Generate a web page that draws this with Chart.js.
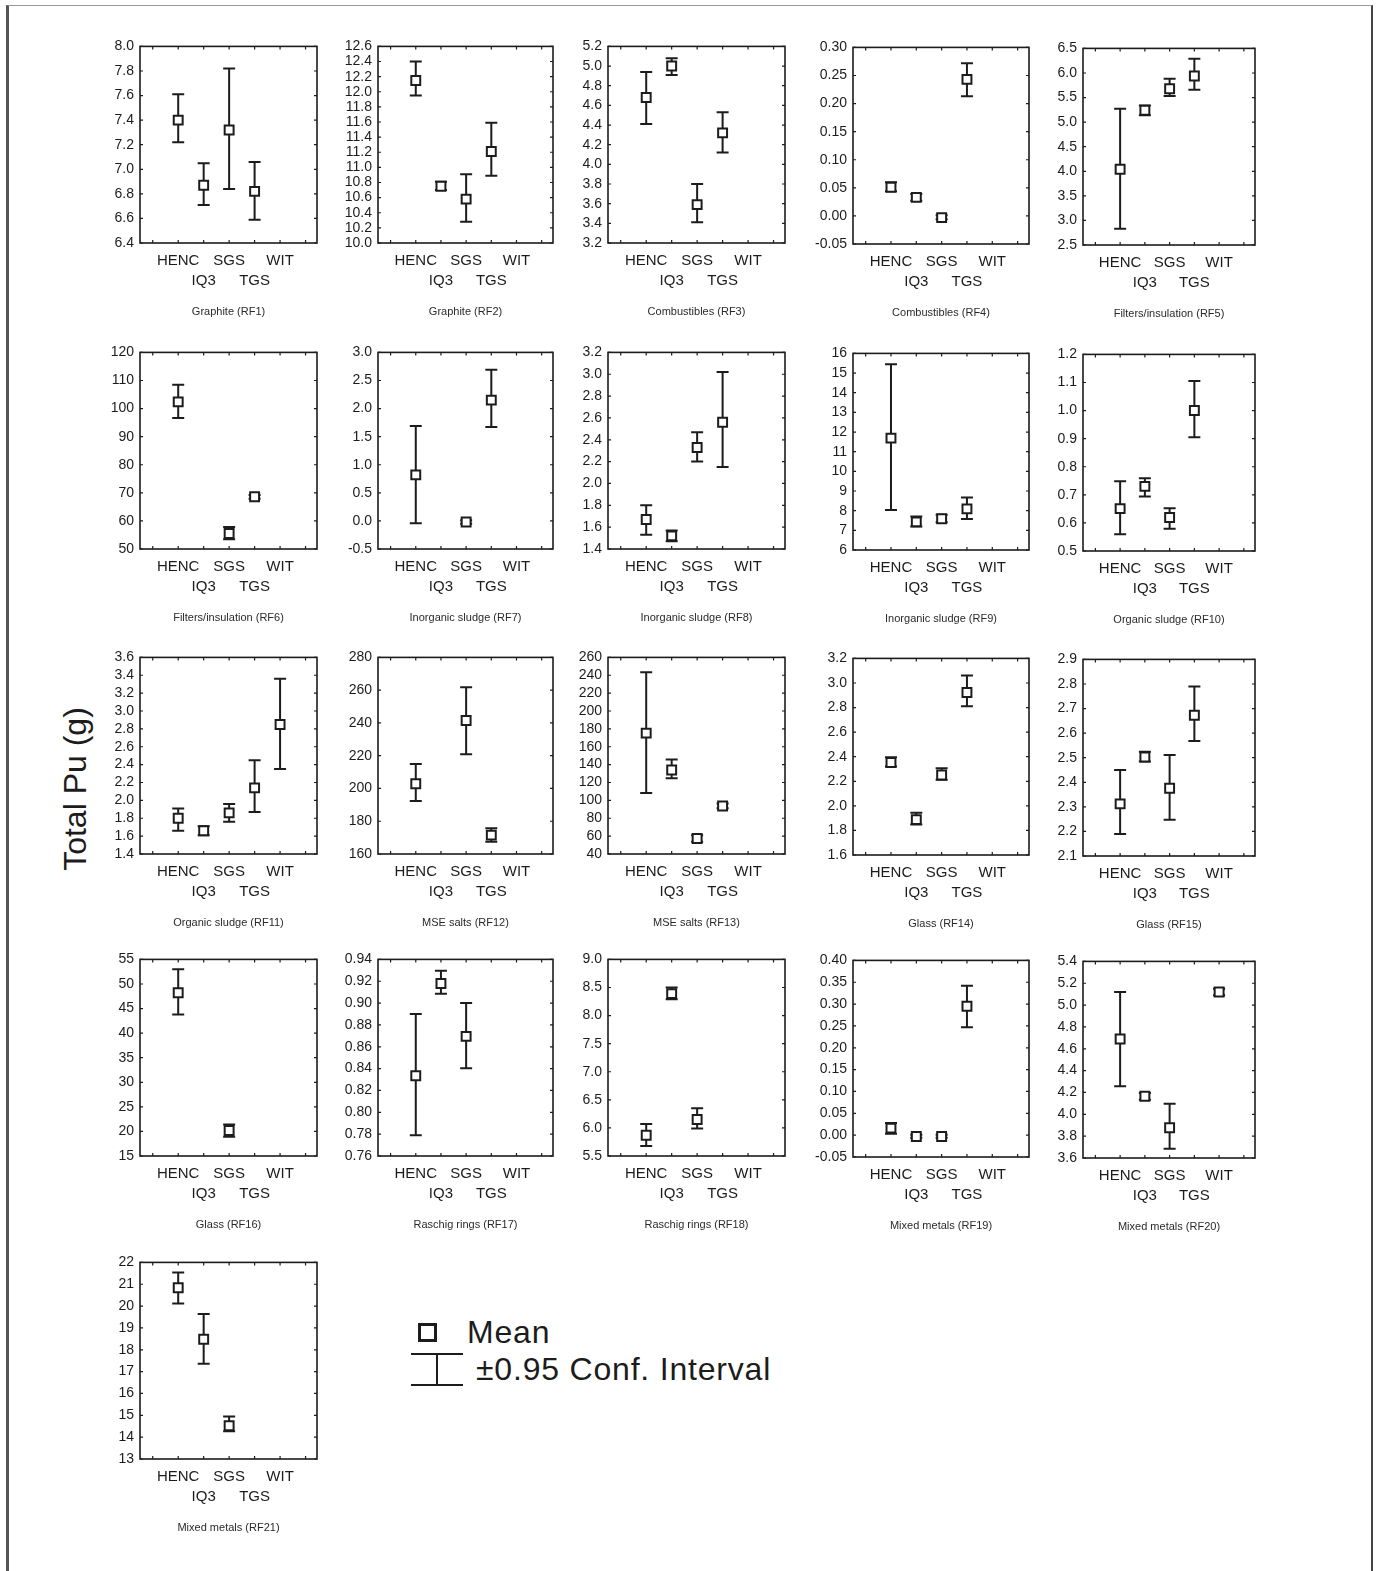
<!DOCTYPE html>
<html>
<head>
<meta charset="utf-8">
<script src="https://cdn.jsdelivr.net/npm/chart.js@4.4.1/dist/chart.umd.min.js"></script>
<style>
  html, body { margin: 0; padding: 0; background: #fff; }
  body { width: 1378px; height: 1571px; position: relative; overflow: hidden;
         font-family: "Liberation Sans", Arial, sans-serif; color: #1c1c1c; }
  .frame { position: absolute; left: 6px; top: 5px; width: 1362px; height: 1600px;
           border-left: 3px solid #555; border-top: 1px solid #999; border-right: 2px solid #444; }
  canvas { position: absolute; }
  .ylab { position: absolute; left: 75px; top: 789px; font-size: 32px; white-space: nowrap;
          transform: translate(-50%, -50%) rotate(-90deg); }
  .lg-box { position: absolute; left: 418px; top: 1323px; width: 13px; height: 13px; border: 3px solid #1c1c1c; }
  .lg-txt { position: absolute; font-size: 32px; line-height: 32px; letter-spacing: 0.8px; white-space: nowrap; }
  .lg-bar { position: absolute; left: 411px; top: 1353px; width: 52px; height: 29px;
            border-top: 2px solid #1c1c1c; border-bottom: 2px solid #1c1c1c; }
  .lg-bar::after { content: ""; position: absolute; left: 25px; top: 0; width: 2px; height: 29px; background: #1c1c1c; }
</style>
</head>
<body>
<div class="frame"></div>
<div class="ylab">Total Pu (g)</div>
<div class="lg-box"></div>
<div class="lg-txt" style="left:467px; top:1316px;">Mean</div>
<div class="lg-bar"></div>
<div class="lg-txt" style="left:476px; top:1353px;">±0.95 Conf. Interval</div>
<script>
const categories = ['HENC', 'IQ3', 'SGS', 'TGS', 'WIT'];

const titles = [
  'Graphite (RF1)', 'Graphite (RF2)', 'Combustibles (RF3)', 'Combustibles (RF4)', 'Filters/insulation (RF5)',
  'Filters/insulation (RF6)', 'Inorganic sludge (RF7)', 'Inorganic sludge (RF8)', 'Inorganic sludge (RF9)', 'Organic sludge (RF10)',
  'Organic sludge (RF11)', 'MSE salts (RF12)', 'MSE salts (RF13)', 'Glass (RF14)', 'Glass (RF15)',
  'Glass (RF16)', 'Raschig rings (RF17)', 'Raschig rings (RF18)', 'Mixed metals (RF19)', 'Mixed metals (RF20)',
  'Mixed metals (RF21)'
];

// mean per method: HENC, IQ3, SGS, TGS, WIT
const means = [
  [7.40, 6.87, 7.32, 6.82, null],
  [12.15, 10.75, 10.58, 11.21, null],
  [4.68, 5.00, 3.59, 4.32, null],
  [0.051, 0.033, -0.003, 0.243, null],
  [4.04, 5.24, 5.68, 5.94, null],
  [102.4, null, 55.5, 68.6, null],
  [0.82, null, -0.02, 2.15, null],
  [1.67, 1.52, 2.33, 2.56, null],
  [11.69, 7.43, 7.59, 8.09, null],
  [0.651, 0.73, 0.619, 1.0, null],
  [1.80, 1.66, 1.86, 2.14, 2.85],
  [202.9, null, 241.5, 171.5, null],
  [175.3, 134.0, 57.4, 93.8, null],
  [2.353, 1.888, 2.251, 2.923, null],
  [2.312, 2.503, 2.376, 2.673, null],
  [48.2, null, 20.2, null, null],
  [0.8335, 0.918, 0.8695, null, null],
  [5.87, 8.39, 6.15, null, null],
  [0.016, -0.003, -0.003, 0.295, null],
  [4.69, 4.166, 3.877, null, 5.12],
  [20.84, 18.48, 14.52, null, null]
];

// lower end of the 0.95 confidence interval
const lows = [
  [7.22, 6.71, 6.84, 6.59, null],
  [11.95, 10.70, 10.28, 10.89, null],
  [4.41, 4.91, 3.41, 4.12, null],
  [0.044, 0.027, -0.006, 0.213, null],
  [2.83, 5.14, 5.53, 5.66, null],
  [96.6, null, 53.5, 67.9, null],
  [-0.04, null, -0.05, 1.67, null],
  [1.53, 1.47, 2.20, 2.15, null],
  [8.04, 7.19, 7.41, 7.58, null],
  [0.56, 0.694, 0.579, 0.905, null],
  [1.66, 1.61, 1.76, 1.87, 2.35],
  [192.3, null, 220.9, 167.5, null],
  [108.2, 124.8, 53.7, 91.2, null],
  [2.32, 1.848, 2.213, 2.81, null],
  [2.19, 2.485, 2.248, 2.568, null],
  [43.8, null, 18.9, null, null],
  [0.7789, 0.9085, 0.8404, null, null],
  [5.68, 8.29, 5.99, null, null],
  [0.003, -0.006, -0.006, 0.247, null],
  [4.256, 4.133, 3.684, null, 5.09],
  [20.12, 17.36, 14.27, null, null]
];

// upper end of the 0.95 confidence interval
const highs = [
  [7.61, 7.05, 7.82, 7.06, null],
  [12.40, 10.81, 10.91, 11.59, null],
  [4.94, 5.08, 3.80, 4.53, null],
  [0.060, 0.039, 0.001, 0.272, null],
  [5.27, 5.34, 5.88, 6.29, null],
  [108.5, null, 57.8, 69.2, null],
  [1.69, null, 0.01, 2.69, null],
  [1.80, 1.57, 2.47, 3.02, null],
  [15.45, 7.71, 7.79, 8.67, null],
  [0.748, 0.759, 0.652, 1.105, null],
  [1.91, 1.71, 1.96, 2.45, 3.36],
  [214.9, null, 261.8, 175.7, null],
  [243.4, 145.8, 61.0, 96.4, null],
  [2.396, 1.944, 2.305, 3.06, null],
  [2.45, 2.524, 2.511, 2.79, null],
  [53.0, null, 21.4, null, null],
  [0.8899, 0.9295, 0.9001, null, null],
  [6.07, 8.50, 6.35, null, null],
  [0.028, 0.001, 0.001, 0.342, null],
  [5.12, 4.196, 4.097, null, 5.15],
  [21.54, 19.64, 14.94, null, null]
];

// y axis ticks of each panel
const yMins   = [6.4, 10.0, 3.2, -0.05, 2.5, 50, -0.5, 1.4, 6, 0.5, 1.4, 160, 40, 1.6, 2.1, 15, 0.76, 5.5, -0.05, 3.6, 13];
const yMaxs   = [8.0, 12.6, 5.2, 0.30, 6.5, 120, 3.0, 3.2, 16, 1.2, 3.6, 280, 260, 3.2, 2.9, 55, 0.94, 9.0, 0.40, 5.4, 22];
const ySteps  = [0.2, 0.2, 0.2, 0.05, 0.5, 10, 0.5, 0.2, 1, 0.1, 0.2, 20, 20, 0.2, 0.1, 5, 0.02, 0.5, 0.05, 0.2, 1];
const yDigits = [1, 1, 1, 2, 1, 0, 1, 1, 0, 1, 1, 0, 0, 1, 1, 0, 2, 1, 2, 1, 0];

const ink = '#1c1c1c';
const fontFamily = '"Liberation Sans", Arial, sans-serif';

// page layout of the plot boxes
const plotLeft = [140, 378, 608, 853, 1083];
const plotWidth = [177, 175, 177, 176, 172];
const rowTop = [42, 348, 653, 955, 1258];
const colShift = [0, 0, 0, 1, 2];
const plotHeight = 201;

const panelDecor = {
  id: 'panelDecor',
  beforeDatasetsDraw(chart, args, opts) {
    const k = opts.k;
    const {ctx, chartArea: a, scales: {x, y}} = chart;
    ctx.save();
    ctx.strokeStyle = ink;
    ctx.lineWidth = 1.6;
    ctx.strokeRect(a.left, a.top, a.width, a.height);

    // small inward ticks on all four sides
    ctx.lineWidth = 1.2;
    ctx.beginPath();
    for (let v = -1; v <= 5; v++) {
      const px = x.getPixelForValue(v);
      if (px < a.left + 3 || px > a.right - 3) continue;
      ctx.moveTo(px, a.bottom); ctx.lineTo(px, a.bottom - 3);
      ctx.moveTo(px, a.top); ctx.lineTo(px, a.top + 3);
    }
    y.ticks.forEach(t => {
      const py = y.getPixelForValue(t.value);
      ctx.moveTo(a.left, py); ctx.lineTo(a.left + 3, py);
      ctx.moveTo(a.right, py); ctx.lineTo(a.right - 3, py);
    });
    ctx.stroke();

    // confidence interval whiskers
    ctx.lineWidth = 2;
    lows[k].forEach((lo, i) => {
      const hi = highs[k][i];
      if (lo == null || hi == null) return;
      const px = x.getPixelForValue(i);
      const p1 = y.getPixelForValue(lo);
      const p2 = y.getPixelForValue(hi);
      ctx.beginPath();
      ctx.moveTo(px, p1); ctx.lineTo(px, p2);
      ctx.moveTo(px - 6, p1); ctx.lineTo(px + 6, p1);
      ctx.moveTo(px - 6, p2); ctx.lineTo(px + 6, p2);
      ctx.stroke();
    });

    // panel caption
    ctx.fillStyle = '#2a2a2a';
    ctx.font = '11px ' + fontFamily;
    ctx.textAlign = 'center';
    ctx.textBaseline = 'middle';
    ctx.fillText(titles[k], (a.left + a.right) / 2, a.bottom + 69);
    ctx.restore();
  }
};

titles.forEach((title, k) => {
  const col = k % 5, row = Math.floor(k / 5);
  const w = plotWidth[col] + 140;
  const h = plotHeight + 10 + 80;
  const cv = document.createElement('canvas');
  cv.width = w; cv.height = h;
  cv.style.width = w + 'px'; cv.style.height = h + 'px';
  cv.style.left = (plotLeft[col] - 70) + 'px';
  cv.style.top = (rowTop[row] + colShift[col] - 10) + 'px';
  document.body.appendChild(cv);

  const pts = [];
  means[k].forEach((m, i) => { if (m != null) pts.push({x: i, y: m}); });

  const nTicks = Math.round((yMaxs[k] - yMins[k]) / ySteps[k]);
  const yTicks = [];
  for (let i = 0; i <= nTicks; i++) yTicks.push(Number((yMins[k] + i * ySteps[k]).toFixed(6)));

  new Chart(cv, {
    type: 'scatter',
    data: {
      datasets: [{
        data: pts,
        pointStyle: 'rect',
        pointRadius: 6.3,
        borderWidth: 2,
        borderColor: ink,
        backgroundColor: '#fff'
      }]
    },
    options: {
      responsive: false,
      maintainAspectRatio: false,
      animation: false,
      events: [],
      layout: {padding: {top: 10, right: 70, left: 0, bottom: 0}},
      plugins: {
        legend: {display: false},
        tooltip: {enabled: false},
        panelDecor: {k: k}
      },
      scales: {
        x: {
          type: 'linear',
          min: -1.5,
          max: 5.45,
          grid: {display: false},
          border: {display: false},
          afterBuildTicks: s => { s.ticks = [0, 1, 2, 3, 4].map(v => ({value: v})); },
          afterFit: s => { s.height = 80; },
          ticks: {
            autoSkip: false,
            maxRotation: 0,
            padding: 0,
            color: ink,
            font: {size: 15, family: fontFamily, lineHeight: 1.33},
            callback: v => (v % 2 === 0 ? [categories[v], ''] : ['', categories[v]])
          }
        },
        y: {
          min: yMins[k],
          max: yMaxs[k],
          grid: {display: false, drawTicks: false},
          border: {display: false},
          afterBuildTicks: s => { s.ticks = yTicks.map(v => ({value: v})); },
          afterFit: s => { s.width = 70; },
          ticks: {
            autoSkip: false,
            padding: 6,
            color: ink,
            font: {size: 14, family: fontFamily},
            callback: v => Number(v).toFixed(yDigits[k])
          }
        }
      }
    },
    plugins: [panelDecor]
  });
});
</script>
</body>
</html>
